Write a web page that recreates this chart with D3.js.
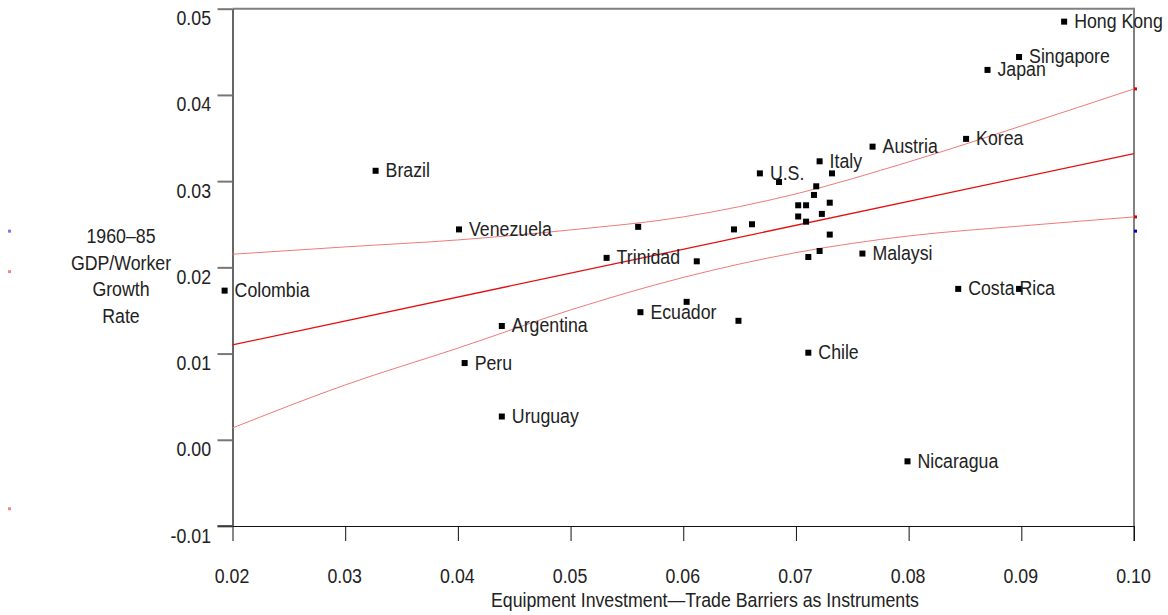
<!DOCTYPE html>
<html>
<head>
<meta charset="utf-8">
<script src="https://cdn.jsdelivr.net/npm/d3@7"></script>
<style>
  html, body { margin: 0; padding: 0; background: #fff; }
  svg { display: block; }
  text { font-family: "Liberation Sans", Arial, sans-serif; font-size: 19.5px; fill: #222; }
</style>
</head>
<body>
<svg id="chart" width="1168" height="615"></svg>
<script>
// Country observations: equipment investment (x) vs GDP/worker growth (y)
const countryNames = [
  "Hong Kong", "Singapore", "Japan", "Korea", "Austria", "Italy", "U.S.",
  "Brazil", "Venezuela", "Trinidad", "Colombia", "Argentina", "Ecuador",
  "Peru", "Uruguay", "Chile", "Malaysi", "Costa Rica", "Nicaragua",
  "", "", "", "", "", "", "", "", "", "", "", "", "", "", "", "", "", "", "", ""
];
const equipInvest = [
  0.0938, 0.0898, 0.0870, 0.0851, 0.0768, 0.0721, 0.0668,
  0.0327, 0.0401, 0.0532, 0.0193, 0.0439, 0.0562,
  0.0406, 0.0439, 0.0711, 0.0759, 0.0844, 0.0799,
  0.0898, 0.0560, 0.0685, 0.0732, 0.0718, 0.0716, 0.0702, 0.0709, 0.0730, 0.0723,
  0.0702, 0.0709, 0.0730, 0.0711, 0.0721, 0.0645, 0.0661, 0.0612, 0.0603, 0.0649
];
const gdpGrowth = [
  0.0485, 0.0444, 0.0429, 0.0349, 0.0340, 0.0323, 0.0309,
  0.0312, 0.0244, 0.0211, 0.0173, 0.0132, 0.0148,
  0.0089, 0.0027, 0.0101, 0.0216, 0.0175, -0.0025,
  0.0175, 0.0247, 0.0299, 0.0309, 0.0294, 0.0284, 0.0272, 0.0272, 0.0275, 0.0262,
  0.0259, 0.0253, 0.0238, 0.0212, 0.0219, 0.0244, 0.0250, 0.0207, 0.0160, 0.0138
];

// Fitted line and its confidence band
const fitX = [0.02, 0.10];
const fitY = [0.0110, 0.0332];
const bandX = [0.02, 0.03, 0.04, 0.05, 0.06, 0.07, 0.08, 0.09, 0.10];
const bandUpper = [0.02152, 0.02237, 0.02318, 0.02434, 0.02585, 0.02852, 0.03223, 0.03640, 0.04070];
const bandLower = [0.00137, 0.00636, 0.01063, 0.01506, 0.01883, 0.02171, 0.02364, 0.02480, 0.02585];

// Axis ticks
const xTicks = [0.02, 0.03, 0.04, 0.05, 0.06, 0.07, 0.08, 0.09, 0.10];
const xTickLabels = ["0.02", "0.03", "0.04", "0.05", "0.06", "0.07", "0.08", "0.09", "0.10"];
const yTicks = [-0.01, 0.00, 0.01, 0.02, 0.03, 0.04, 0.05];
const yTickLabels = ["-0.01", "0.00", "0.01", "0.02", "0.03", "0.04", "0.05"];

const yTitleLines = ["1960\u201385", "GDP/Worker", "Growth", "Rate"];
const xTitle = "Equipment Investment\u2014Trade Barriers as Instruments";

// Small key swatches at the plot edges
const edgeMarksLeft = [
  { v: 0.0242, color: "#7a7af0" },
  { v: 0.0195, color: "#f08888" },
  { v: -0.0080, color: "#f08888" }
];
const edgeMarksRight = [
  { v: bandUpper[bandUpper.length - 1], color: "#e00000" },
  { v: bandLower[bandLower.length - 1], color: "#e00000" },
  { v: 0.0242, color: "#0000c8" }
];

const SX = 0.91; // horizontal condensing of the typeface

const svg = d3.select("#chart");
const plotL = 232.5, plotR = 1134, plotT = 8.7, plotB = 526;

const x = d3.scaleLinear().domain([0.02, 0.10]).range([plotL, plotR]);
const y = d3.scaleLinear().domain([-0.01, 0.05]).range([plotB, plotT]);

function condensedText(g, px, py, str, anchor) {
  return g.append("text")
    .attr("transform", `translate(${px},${py}) scale(${SX},1)`)
    .attr("text-anchor", anchor || "start")
    .text(str);
}

// Frame: grey top and right borders
svg.append("line").attr("x1", plotL).attr("x2", plotR).attr("y1", plotT).attr("y2", plotT)
  .attr("stroke", "#808080").attr("stroke-width", 2);
svg.append("line").attr("x1", plotR).attr("x2", plotR).attr("y1", plotT - 1).attr("y2", plotB + 15)
  .attr("stroke", "#808080").attr("stroke-width", 2);

// Y axis
const yAxis = d3.axisLeft(y).tickValues(yTicks).tickSizeInner(15).tickSizeOuter(0)
  .tickFormat((d, i) => yTickLabels[i]);
const gy = svg.append("g").attr("transform", `translate(${plotL},0)`).call(yAxis);
gy.attr("font-family", null).attr("font-size", null);
gy.select(".domain").attr("stroke", "#000").attr("stroke-width", 1.2);
gy.selectAll(".tick line").attr("stroke", "#777").attr("stroke-width", 2);
gy.selectAll(".tick text")
  .attr("x", null).attr("dy", null)
  .attr("transform", `translate(-21.5,16) scale(${SX},1)`)
  .attr("text-anchor", "end")
  .attr("fill", null);

// X axis
const xAxis = d3.axisBottom(x).tickValues(xTicks).tickSizeInner(15).tickSizeOuter(0)
  .tickFormat((d, i) => xTickLabels[i]);
const gx = svg.append("g").attr("transform", `translate(0,${plotB})`).call(xAxis);
gx.attr("font-family", null).attr("font-size", null);
gx.select(".domain").attr("stroke", "#111").attr("stroke-width", 1.2);
gx.selectAll(".tick line").attr("stroke", "#111").attr("stroke-width", 1);
gx.selectAll(".tick text")
  .attr("y", null).attr("dy", null)
  .attr("transform", `translate(-1,56.5) scale(${SX},1)`)
  .attr("text-anchor", "middle")
  .attr("fill", null);

// The -0.01 tick joins the x axis line
svg.append("line").attr("x1", plotL - 15).attr("x2", plotL).attr("y1", plotB).attr("y2", plotB)
  .attr("stroke", "#111").attr("stroke-width", 1.2);

// Axis titles
yTitleLines.forEach((t, i) => condensedText(svg, 121, 243.3 + i * 26.5, t, "middle"));
condensedText(svg, 705, 607, xTitle, "middle");

// Confidence band and fitted line
const bandLine = d3.line().x(d => x(d[0])).y(d => y(d[1])).curve(d3.curveMonotoneX);
svg.append("path").datum(bandX.map((v, i) => [v, bandUpper[i]]))
  .attr("d", bandLine).attr("fill", "none").attr("stroke", "#f07a7a").attr("stroke-width", 1);
svg.append("path").datum(bandX.map((v, i) => [v, bandLower[i]]))
  .attr("d", bandLine).attr("fill", "none").attr("stroke", "#f07a7a").attr("stroke-width", 1);
svg.append("path").datum(fitX.map((v, i) => [v, fitY[i]]))
  .attr("d", d3.line().x(d => x(d[0])).y(d => y(d[1])))
  .attr("fill", "none").attr("stroke", "#e41010").attr("stroke-width", 1.3);

// Points and labels
const pts = countryNames.map((n, i) => ({ name: n, xv: equipInvest[i], yv: gdpGrowth[i] }));
svg.append("g").selectAll("rect").data(pts).join("rect")
  .attr("x", d => x(d.xv) - 3).attr("y", d => y(d.yv) - 3)
  .attr("width", 6).attr("height", 6).attr("fill", "#000");
const lab = svg.append("g");
pts.filter(d => d.name).forEach(d => condensedText(lab, x(d.xv) + 10, y(d.yv) + 6.5, d.name, "start"));

// Edge swatches
svg.append("g").selectAll("rect").data(edgeMarksLeft).join("rect")
  .attr("x", 8).attr("y", d => y(d.v) - 1.5).attr("width", 3).attr("height", 3)
  .attr("fill", d => d.color);
svg.append("g").selectAll("rect").data(edgeMarksRight).join("rect")
  .attr("x", plotR).attr("y", d => y(d.v) - 1.5).attr("width", 3).attr("height", 3)
  .attr("fill", d => d.color);
</script>
</body>
</html>
